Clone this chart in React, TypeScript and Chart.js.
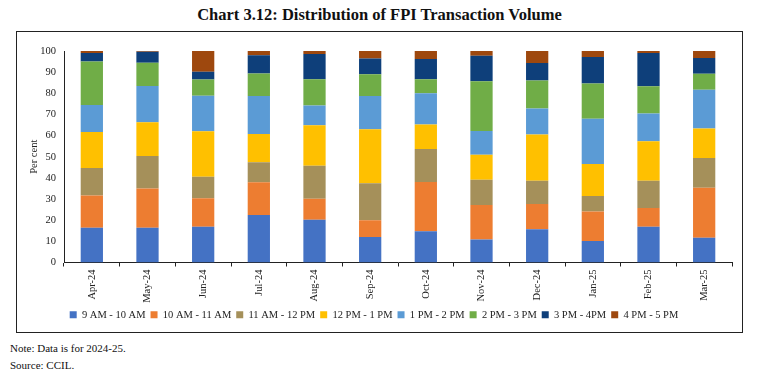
import React, { useEffect, useRef } from "react";
import { Chart, registerables } from "chart.js";

Chart.register(...registerables);

const categories = ["Apr-24", "May-24", "Jun-24", "Jul-24", "Aug-24", "Sep-24", "Oct-24", "Nov-24", "Dec-24", "Jan-25", "Feb-25", "Mar-25"];
const seriesNames = ["9 AM - 10 AM", "10 AM - 11 AM", "11 AM - 12 PM", "12 PM - 1 PM", "1 PM - 2 PM", "2 PM - 3 PM", "3 PM - 4PM", "4 PM - 5 PM"];
const colors = ["#4472C4", "#ED7D31", "#A5905A", "#FFC000", "#5B9BD5", "#70AD47", "#0E3F7A", "#9E480E"];

const s9to10 = [16.4, 16.4, 16.9, 22.5, 20.2, 12.1, 14.8, 10.9, 15.7, 10.2, 16.9, 11.7];
const s10to11 = [15.3, 18.6, 13.5, 15.5, 9.9, 7.9, 23.3, 16.3, 12.0, 13.9, 8.9, 23.6];
const s11to12 = [13.0, 15.4, 10.1, 9.4, 15.6, 17.5, 15.6, 11.9, 10.9, 7.4, 12.8, 14.1];
const s12to1 = [17.0, 15.9, 21.5, 13.4, 19.2, 25.5, 11.5, 11.9, 21.9, 15.1, 18.7, 13.9];
const s1to2 = [12.8, 17.2, 16.9, 17.9, 9.3, 15.7, 14.8, 11.2, 12.3, 21.4, 13.1, 18.4];
const s2to3 = [20.5, 11.0, 7.6, 10.7, 12.4, 10.3, 6.6, 23.5, 13.2, 16.6, 12.9, 7.6];
const s3to4 = [4.1, 5.2, 3.7, 8.6, 12.0, 7.4, 9.6, 12.1, 8.3, 12.6, 15.8, 7.4];
const s4to5 = [0.9, 0.3, 9.8, 2.0, 1.4, 3.6, 3.8, 2.2, 5.7, 2.8, 0.9, 3.3];

const yTicks = [0, 10, 20, 30, 40, 50, 60, 70, 80, 90, 100];

const serif = "'Liberation Serif', 'DejaVu Serif', serif";

export default function App() {
  const ref = useRef<HTMLCanvasElement | null>(null);

  useEffect(() => {
    document.body.style.margin = "0";
    const series = [s9to10, s10to11, s11to12, s12to1, s1to2, s2to3, s3to4, s4to5];
    const chart = new Chart(ref.current as HTMLCanvasElement, {
      type: "bar",
      data: {
        labels: categories,
        datasets: series.map((d, i) => ({
          label: seriesNames[i],
          data: d,
          backgroundColor: colors[i],
          borderWidth: 0,
          barPercentage: 0.4,
          categoryPercentage: 1,
        })),
      },
      options: {
        animation: false,
        responsive: false,
        maintainAspectRatio: false,
        layout: { padding: { top: 19, right: 10, left: 0, bottom: 2 } },
        plugins: {
          tooltip: { enabled: false },
          legend: {
            position: "bottom",
            labels: {
              boxWidth: 7,
              boxHeight: 7,
              padding: 5,
              color: "#222",
              font: { family: serif, size: 10.5 },
            },
          },
        },
        scales: {
          x: {
            stacked: true,
            grid: { display: true, offset: true, drawOnChartArea: false, drawTicks: true, tickLength: 4, color: "#222" },
            border: { display: true, color: "#222", width: 1 },
            ticks: { minRotation: 90, maxRotation: 90, padding: 3, color: "#222", font: { family: serif, size: 10.5 } },
            afterFit: (s: any) => { s.height = 42; },
          },
          y: {
            stacked: true,
            min: 0,
            max: 100,
            afterBuildTicks: (s: any) => { s.ticks = yTicks.map((v) => ({ value: v })); },
            grid: { display: false, drawTicks: false },
            border: { display: true, color: "#222", width: 1 },
            ticks: { padding: 8, color: "#222", font: { family: serif, size: 10.5 } },
            title: { display: true, text: "Per cent", color: "#222", font: { family: serif, size: 10.5 }, padding: { top: 12, bottom: 0 } },
            afterFit: (s: any) => { s.width = 48; },
          },
        },
      },
    });
    return () => chart.destroy();
  }, []);

  return (
    <div style={{ position: "relative", width: 759, height: 378, background: "#fff", fontFamily: serif, color: "#111" }}>
      <div style={{ position: "absolute", left: 0, top: 5, width: 759, textAlign: "center", fontWeight: "bold", fontSize: 16.5 }}>
        Chart 3.12: Distribution of FPI Transaction Volume
      </div>
      <div style={{ position: "absolute", left: 16, top: 31, width: 727, height: 302, border: "1px solid #222", boxSizing: "border-box" }} />
      <canvas ref={ref} width={726} height={300} style={{ position: "absolute", left: 16, top: 32, width: 726, height: 300 }} />
      <div style={{ position: "absolute", left: 10, top: 342, fontSize: 11 }}>Note: Data is for 2024-25.</div>
      <div style={{ position: "absolute", left: 10, top: 359, fontSize: 11 }}>Source: CCIL.</div>
    </div>
  );
}
